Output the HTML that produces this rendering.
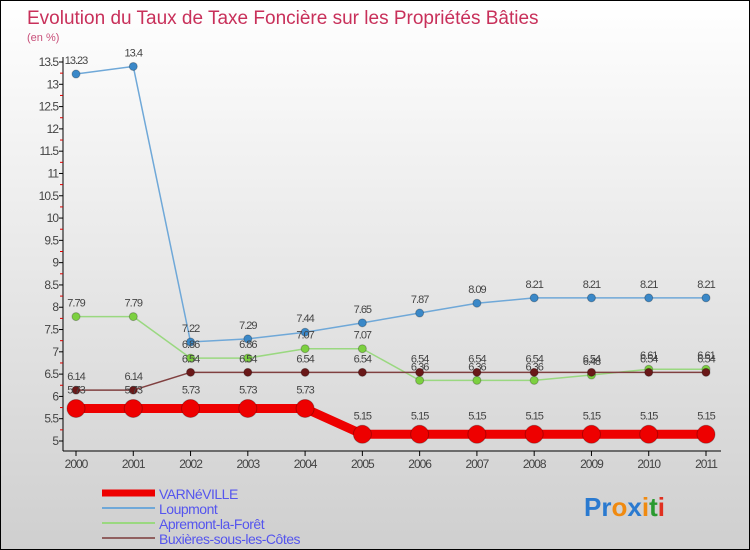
<!DOCTYPE html>
<html><head><meta charset="utf-8"><style>
body{margin:0}
#c{width:750px;height:550px;position:relative;box-sizing:border-box;border:1px solid #000;background:linear-gradient(#ffffff,#cfcfcf);font-family:"Liberation Sans",sans-serif;overflow:hidden}
svg text{font-family:"Liberation Sans",sans-serif}
</style></head><body>
<div id="c">
<svg id="s" width="750" height="550">
<text x="26" y="23" font-size="19" fill="#c8305a">Evolution du Taux de Taxe Foncière sur les Propriétés Bâties</text>
<text x="26" y="40" font-size="11" fill="#c8507a">(en %)</text>
<g id="axes"></g><g id="series"></g><g id="legend"></g>
<text x="583" y="515" font-size="26" font-weight="bold"><tspan fill="#2a7ad0">Pr</tspan><tspan fill="#f08a10">o</tspan><tspan fill="#2a7ad0">x</tspan><tspan fill="#f08a10">i</tspan><tspan fill="#2a9a30">t</tspan><tspan fill="#e03020">i</tspan></text>
</svg></div>
<script>
const years=[2000,2001,2002,2003,2004,2005,2006,2007,2008,2009,2010,2011];
const yTicks=[5,5.5,6,6.5,7,7.5,8,8.5,9,9.5,10,10.5,11,11.5,12,12.5,13,13.5];
const varneville=[5.73,5.73,5.73,5.73,5.73,5.15,5.15,5.15,5.15,5.15,5.15,5.15];
const loupmont=[13.23,13.4,7.22,7.29,7.44,7.65,7.87,8.09,8.21,8.21,8.21,8.21];
const apremont=[7.79,7.79,6.86,6.86,7.07,7.07,6.36,6.36,6.36,6.48,6.61,6.61];
const buxieres=[6.14,6.14,6.54,6.54,6.54,6.54,6.54,6.54,6.54,6.54,6.54,6.54];
const names=["VARNéVILLE","Loupmont","Apremont-la-Forêt","Buxières-sous-les-Côtes"];
const NS="http://www.w3.org/2000/svg";
const X=i=>75+i*(630/11);
const Y=v=>440-(v-5)*(379/8.5);
function el(t,a,p){const e=document.createElementNS(NS,t);for(const k in a)e.setAttribute(k,a[k]);p.appendChild(e);return e;}
const ax=document.getElementById('axes');
let l=el('line',{x1:62,y1:56,x2:62,y2:450,stroke:'#000'},ax);

l=el('line',{x1:62,y1:450,x2:720,y2:450,stroke:'#000'},ax);

yTicks.forEach(v=>{
 el('line',{x1:58,y1:Y(v),x2:62,y2:Y(v),stroke:'#000'},ax);
 if(v<13.5)el('line',{x1:59,y1:Y(v+0.25),x2:62,y2:Y(v+0.25),stroke:'#d00'},ax);
 const t=el('text',{x:57,y:Y(v)+4,'font-size':12,'text-anchor':'end',fill:'#444','letter-spacing':'-1'},ax);
 t.textContent=v;
 
});
years.forEach((y,i)=>{
 el('line',{x1:X(i),y1:450,x2:X(i),y2:455,stroke:'#000'},ax);
 const t=el('text',{x:X(i),y:467,'font-size':12,'text-anchor':'middle',fill:'#444','letter-spacing':'-1'},ax);
 t.textContent=y;
 
});
const sg=document.getElementById('series');
const defs=[[loupmont,'#6fa8d8','#3a88c8',1.5,4,'loupmont'],[apremont,'#9ad880','#7cd040',1.5,4,'apremont'],[buxieres,'#804040','#6a1818',1.5,4,'buxieres'],[varneville,'#ee0000','#ee0000',9,9,'varneville']];
defs.forEach(([d,lc,pc,w,r,n])=>{
 const g=el('g',{},sg);
 
 const p=el('polyline',{points:d.map((v,i)=>X(i)+','+Y(v)).join(' '),fill:'none',stroke:lc,'stroke-width':w},g);
 
 d.forEach((v,i)=>{
  const c=el('circle',{cx:X(i),cy:Y(v),r:r,fill:pc,stroke:'rgba(0,0,0,0.25)','stroke-width':1},g);
  
  const t=el('text',{x:X(i),y:Y(v)-(n==='varneville'?15:10),'font-size':11,'text-anchor':'middle',fill:'#444','letter-spacing':'-1'},g);
  t.textContent=v;
  
 });
});
const lg=document.getElementById('legend');
const lcols=['#ee0000','#6fa8d8','#9ad880','#906060'],lw=[7,2,2,2];
names.forEach((nm,i)=>{
 const yy=492+i*15;
 const g=el('g',{},lg);
 
 el('line',{x1:101,y1:yy,x2:154,y2:yy,stroke:lcols[i],'stroke-width':lw[i]},g);
 const t=el('text',{x:158,y:yy+6,'font-size':14,fill:'#5555ee','letter-spacing':'-0.5'},g);
 t.textContent=nm;
 
});
</script>
</body></html>
